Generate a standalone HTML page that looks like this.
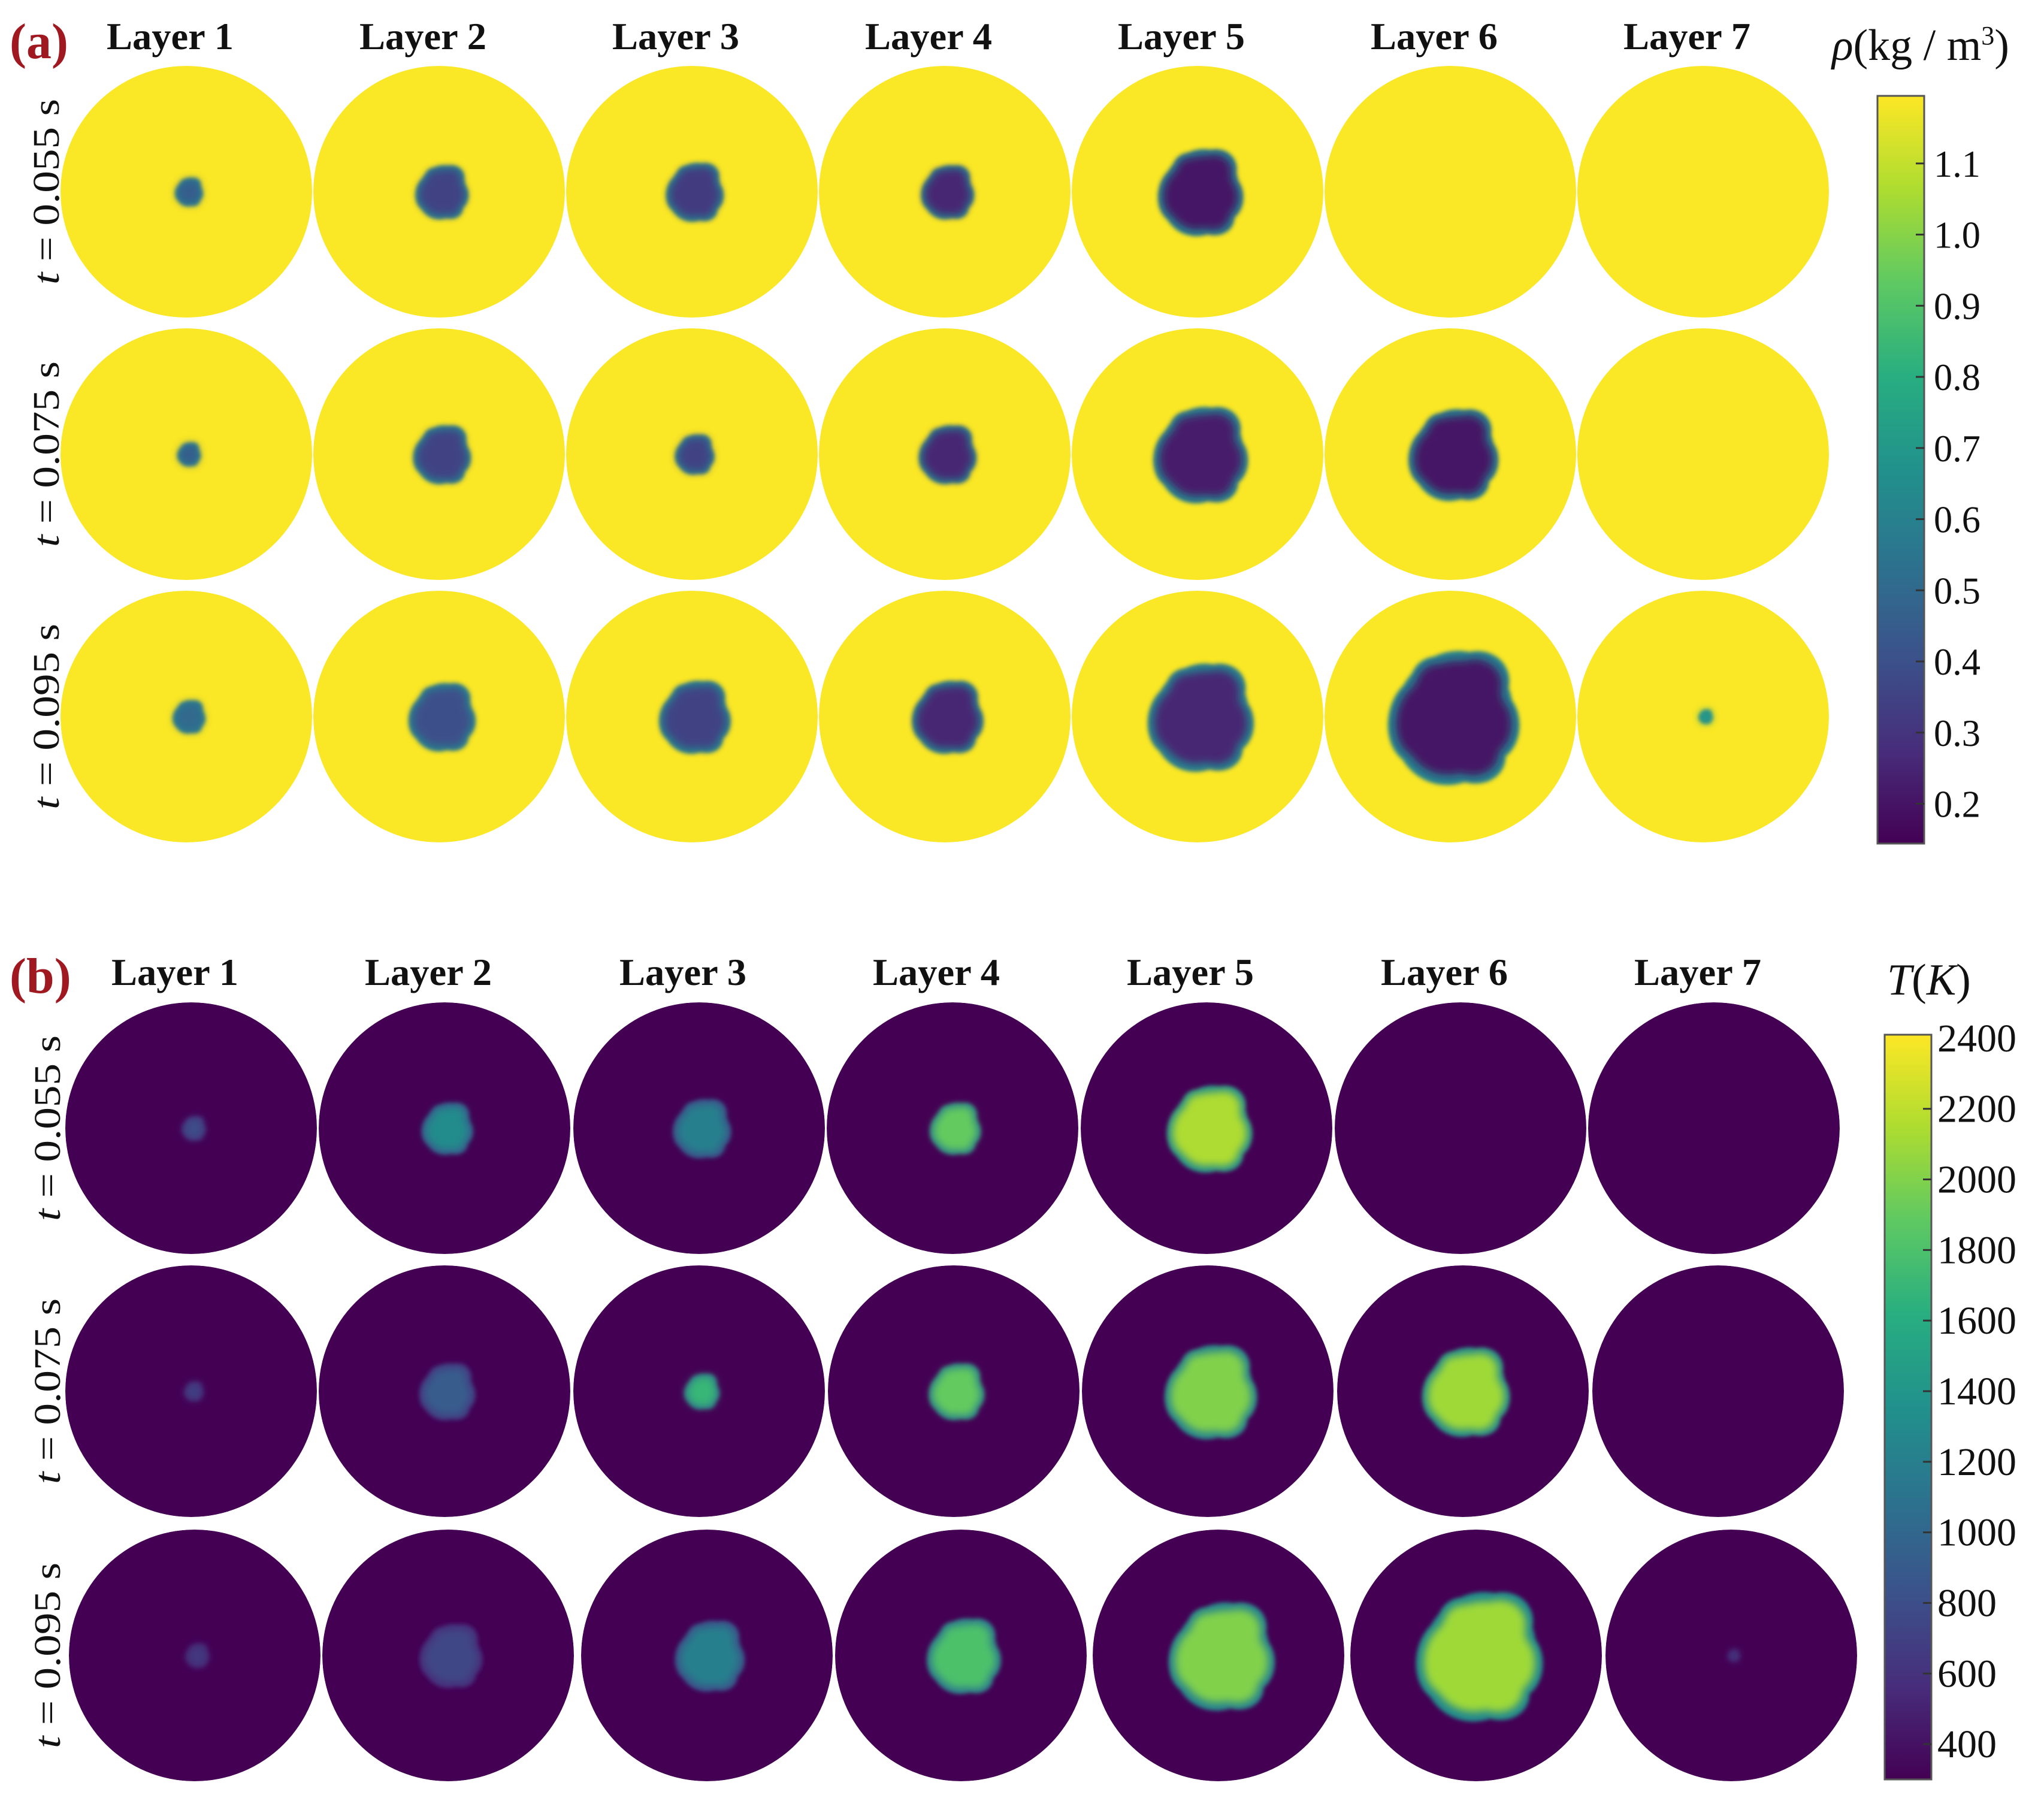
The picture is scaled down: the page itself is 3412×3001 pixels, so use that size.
<!DOCTYPE html>
<html><head><meta charset="utf-8"><title>Density and temperature by layer</title>
<style>
html,body{margin:0;padding:0;background:#fff;}
svg{display:block;}
</style></head>
<body>
<svg id="fig" width="3412" height="3001" viewBox="0 0 3412 3001" xmlns="http://www.w3.org/2000/svg">
<defs>
<filter id="blurS" x="-50%" y="-50%" width="200%" height="200%"><feGaussianBlur stdDeviation="3.5"/></filter>
<filter id="blurM" x="-50%" y="-50%" width="200%" height="200%"><feGaussianBlur stdDeviation="7"/></filter>
<linearGradient id="vgrad" x1="0" y1="1" x2="0" y2="0">
<stop offset="0" stop-color="#440154"/><stop offset="0.125" stop-color="#472d7b"/><stop offset="0.25" stop-color="#3b528b"/><stop offset="0.375" stop-color="#2c728e"/><stop offset="0.5" stop-color="#21918c"/><stop offset="0.625" stop-color="#28ae80"/><stop offset="0.75" stop-color="#5ec962"/><stop offset="0.875" stop-color="#addc30"/><stop offset="1" stop-color="#fde725"/>
</linearGradient>
</defs>
<g id="panelA"></g>
<g id="panelB"></g>
</svg>
<script>
// ---- data ----
const layerLabels = ['Layer 1','Layer 2','Layer 3','Layer 4','Layer 5','Layer 6','Layer 7'];
const timeLabels = ['0.055','0.075','0.095'];
// plume radius as fraction of chamber radius, density panel
const rhoPlumeSize = [
  [0.12,0.23,0.25,0.23,0.37,0,0],
  [0.10,0.25,0.17,0.25,0.41,0.39,0],
  [0.14,0.29,0.31,0.31,0.46,0.57,0.06]];
// plume core density (kg/m3)
const rhoCore = [
  [0.45,0.35,0.32,0.25,0.2,1.19,1.19],
  [0.45,0.35,0.35,0.25,0.22,0.2,1.19],
  [0.5,0.4,0.35,0.25,0.25,0.2,0.75]];
const rhoEdge = 0.6;
const rhoAmbient = 1.19;
// plume radius, temperature panel
const tPlumeSize = [
  [0.10,0.22,0.25,0.22,0.37,0,0],
  [0.08,0.24,0.15,0.24,0.40,0.38,0],
  [0.10,0.27,0.30,0.32,0.46,0.55,0.05]];
// plume core temperature (K)
const tCore = [
  [800,1300,1200,1900,2150,300,300],
  [700,900,1700,1900,2000,2100,300],
  [650,750,1200,1800,2000,2100,650]];
const tEdgeFrac = 0.55;
const tAmbient = 300;
const rhoTicks = [1.1,1.0,0.9,0.8,0.7,0.6,0.5,0.4,0.3,0.2];
const rhoTickLabels = ['1.1','1.0','0.9','0.8','0.7','0.6','0.5','0.4','0.3','0.2'];
const tTicks = [2400,2200,2000,1800,1600,1400,1200,1000,800,600,400];
const tTickLabels = ['2400','2200','2000','1800','1600','1400','1200','1000','800','600','400'];

// ---- helpers ----
const NS='http://www.w3.org/2000/svg';
const VIR=[[68,1,84],[71,45,123],[59,82,139],[44,114,142],[33,145,140],[40,174,128],[94,201,98],[173,220,48],[253,231,37]];
function viridis(t){t=Math.max(0,Math.min(1,t));const p=t*8;const i=Math.min(7,Math.floor(p));const f=p-i;
  const c=VIR[i].map((v,k)=>Math.round(v+(VIR[i+1][k]-v)*f));return 'rgb('+c.join(',')+')';}
function mk(tag,attrs,parent){const e=document.createElementNS(NS,tag);for(const k in attrs)e.setAttribute(k,attrs[k]);parent.appendChild(e);return e;}
const R=210;
// lobe pattern (shape style only): dx, dy, rx, ry, rotation
const lobes=[[0,0.02,0.82,0.95,20],[0.3,-0.45,0.5,0.45,-30],[-0.45,0.05,0.45,0.62,10],[0.25,0.5,0.5,0.42,25],[0.55,0.12,0.38,0.5,0],[-0.2,-0.45,0.4,0.38,40]];

function buildPanel(gid, cfg){
  const g=document.getElementById(gid);
  const let_=mk('text',{x:cfg.letterX,y:cfg.letterY,'font-family':'Liberation Serif, serif','font-weight':'bold','font-size':84,fill:'#a01820'},g);
  let_.textContent=cfg.letter;
  
  
  layerLabels.forEach((lab,j)=>{
    const t=mk('text',{x:cfg.cx[0][j]-27,y:cfg.labelY,'text-anchor':'middle','font-family':'Liberation Serif, serif','font-weight':'bold','font-size':64,fill:'#111',textLength:212,lengthAdjust:'spacingAndGlyphs'},g);
    t.textContent=lab;
    
    
  });
  timeLabels.forEach((tl,i)=>{
    const cy=cfg.cy[i];
    const t=mk('text',{x:0,y:0,transform:'translate('+cfg.rowLabelX+','+cy+') rotate(-90)','text-anchor':'middle','font-family':'Liberation Serif, serif','font-size':62,fill:'#111',textLength:310,lengthAdjust:'spacingAndGlyphs'},g);
    
    
    const ts1=mk('tspan',{'font-style':'italic'},t);ts1.textContent='t';
    const ts2=mk('tspan',{},t);ts2.textContent=' = '+tl+' s';
    for(let j=0;j<7;j++){
      const cx=cfg.cx[i][j];
      const cid=gid+'clip'+i+j;
      const cp=mk('clipPath',{id:cid},g);mk('circle',{cx:cx,cy:cy,r:R},cp);
      const cell=mk('g',{'clip-path':'url(#'+cid+')'},g);
      
      
      mk('circle',{cx:cx,cy:cy,r:R,fill:cfg.ambientColor},cell);
      const s=cfg.size[i][j];
      if(s>0){
        const pr=s*R;
        const bx=cx+0.02*R, by=cy;
        const ge=mk('g',{filter:'url(#blurS)'},cell);
        
        
        lobes.forEach(l=>{const x=bx+l[0]*pr,y=by+l[1]*pr;mk('ellipse',{cx:x,cy:y,rx:l[2]*pr,ry:l[3]*pr,transform:'rotate('+l[4]+' '+x+' '+y+')',fill:cfg.edgeColor(i,j)},ge);});
        const gc=mk('g',{filter:'url(#blurM)'},cell);
        
        
        lobes.forEach(l=>{const x=bx+l[0]*pr*0.9,y=by+l[1]*pr*0.9;mk('ellipse',{cx:x,cy:y,rx:l[2]*pr*0.85,ry:l[3]*pr*0.85,transform:'rotate('+l[4]+' '+x+' '+y+')',fill:cfg.coreColor(i,j)},gc);});
      }
    }
  });
  const cb=cfg.cb;
  const bar=mk('rect',{x:cb.x,y:cb.y0,width:cb.w,height:cb.y1-cb.y0,fill:'url(#vgrad)',stroke:'#555','stroke-width':3},g);
  
  
  const vy=v=>cb.y1-(v-cb.vmin)/(cb.vmax-cb.vmin)*(cb.y1-cb.y0);
  cb.ticks.forEach((v,k)=>{
    const y=vy(v);
    if(y>cb.y0+15) mk('line',{x1:cb.x+cb.w-14,x2:cb.x+cb.w,y1:y,y2:y,stroke:'#333','stroke-width':3},g);
    const t=mk('text',{x:cb.lx,y:y+22,'font-family':'Liberation Serif, serif','font-size':cb.fs,fill:'#111',textLength:cb.labels[k].length*cb.cw,lengthAdjust:'spacingAndGlyphs'},g);
    t.textContent=cb.labels[k];
    
    
  });
  const title=mk('text',{x:cb.tx,y:cb.ty,'font-family':'Liberation Serif, serif','font-size':74,fill:'#111'},g);
  
  
  title.innerHTML=cb.title;
}

const rhoNorm=v=>(v-0.144)/(1.195-0.144);
const tNorm=v=>(v-300)/(2410-300);
const axA=[311,733,1155,1577,1999,2421,2843];
buildPanel('panelA',{
  letter:'(a)',letterX:16,letterY:97,labelY:82,rowLabelX:98,
  cx:[axA,axA,axA],cy:[320,758,1196],size:rhoPlumeSize,
  ambientColor:viridis(rhoNorm(rhoAmbient)),
  edgeColor:(i,j)=>viridis(rhoNorm(Math.min(rhoEdge,(rhoCore[i][j]+1.19)/2))),
  coreColor:(i,j)=>viridis(rhoNorm(rhoCore[i][j])),
  cb:{x:3134,w:78,y0:160,y1:1408,vmin:0.144,vmax:1.195,ticks:rhoTicks,labels:rhoTickLabels,lx:3228,fs:64,cw:26,
      tx:3058,ty:100,title:'<tspan font-style="italic">ρ</tspan>(kg / m<tspan font-size="44" dy="-26">3</tspan><tspan dy="26">)</tspan>'}
});
buildPanel('panelB',{
  letter:'(b)',letterX:16,letterY:1657,labelY:1644,rowLabelX:100,
  cx:[[319,742,1167,1590,2014,2438,2861],[319,742,1167,1592,2016,2442,2868],[325,748,1180,1604,2034,2464,2890]],
  cy:[1883,2322,2763],size:tPlumeSize,
  ambientColor:viridis(tNorm(tAmbient)),
  edgeColor:(i,j)=>viridis(tNorm(tAmbient+(tCore[i][j]-tAmbient)*tEdgeFrac)),
  coreColor:(i,j)=>viridis(tNorm(tCore[i][j])),
  cb:{x:3146,w:78,y0:1727,y1:2970,vmin:300,vmax:2410,ticks:tTicks,labels:tTickLabels,lx:3234,fs:66,cw:33,
      tx:3150,ty:1660,title:'<tspan font-style="italic">T</tspan>(<tspan font-style="italic">K</tspan>)'}
});
</script>
</body></html>
